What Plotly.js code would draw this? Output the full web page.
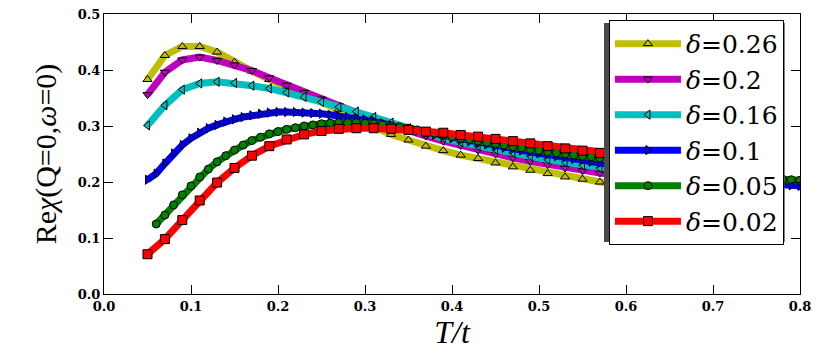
<!DOCTYPE html>
<html>
<head>
<meta charset="utf-8">
<script src="https://cdn.plot.ly/plotly-3.0.1.min.js"></script>
<style>html,body{margin:0;padding:0;background:#fff;}#chart{width:830px;height:355px;}</style>
</head>
<body>
<div id="chart"></div>
<script>
// Temperature grids
const T_coarse = [0.05,0.07,0.09,0.11,0.13,0.15,0.17,0.19,0.21,0.23,0.25,0.27,0.29,0.31,0.33,0.35,0.37,0.39,0.41,0.43,0.45,0.47,0.49,0.51,0.53,0.55,0.57,0.59,0.61,0.63,0.65,0.67,0.69,0.71,0.73,0.75];
const T_blue = [0.05,0.06,0.07,0.08,0.09,0.10,0.11,0.12,0.13,0.14,0.15,0.16,0.17,0.18,0.19,0.20,0.21,0.22,0.23,0.24,0.25,0.26,0.27,0.28,0.29,0.30,0.31,0.32,0.33,0.34,0.35,0.36,0.37,0.38,0.39,0.40,0.41,0.42,0.43,0.44,0.45,0.46,0.47,0.48,0.49,0.50,0.51,0.52,0.53,0.54,0.55,0.56,0.57,0.58,0.59,0.60,0.61,0.62,0.63,0.64,0.65,0.66,0.67,0.68,0.69,0.70,0.71,0.72,0.73,0.74,0.75,0.76,0.77,0.78,0.79,0.80];
const T_green = [0.06,0.07,0.08,0.09,0.10,0.11,0.12,0.13,0.14,0.15,0.16,0.17,0.18,0.19,0.20,0.21,0.22,0.23,0.24,0.25,0.26,0.27,0.28,0.29,0.30,0.31,0.32,0.33,0.34,0.35,0.36,0.37,0.38,0.39,0.40,0.41,0.42,0.43,0.44,0.45,0.46,0.47,0.48,0.49,0.50,0.51,0.52,0.53,0.54,0.55,0.56,0.57,0.58,0.59,0.60,0.61,0.62,0.63,0.64,0.65,0.66,0.67,0.68,0.69,0.70,0.71,0.72,0.73,0.74,0.75,0.76,0.77,0.78,0.79,0.80];

// Re chi(Q=0, w=0) for each doping
const chi_026 = [0.383,0.426,0.442,0.442,0.432,0.414,0.398,0.383,0.370,0.357,0.344,0.330,0.315,0.299,0.285,0.275,0.264,0.256,0.248,0.242,0.234,0.227,0.221,0.215,0.209,0.205,0.200,0.196,0.192,0.188,0.185,0.182,0.179,0.176,0.173,0.171];
const chi_020 = [0.356,0.396,0.418,0.423,0.417,0.409,0.399,0.386,0.373,0.360,0.348,0.336,0.324,0.312,0.301,0.291,0.282,0.273,0.265,0.257,0.250,0.243,0.237,0.231,0.225,0.220,0.216,0.212,0.208,0.204,0.200,0.197,0.194,0.191,0.188,0.186];
const chi_016 = [0.301,0.337,0.365,0.376,0.379,0.377,0.372,0.367,0.360,0.352,0.343,0.334,0.326,0.316,0.306,0.296,0.287,0.278,0.271,0.264,0.258,0.252,0.246,0.240,0.235,0.230,0.225,0.220,0.216,0.212,0.208,0.204,0.200,0.197,0.194,0.191];
const chi_010 = [0.204,0.215,0.233,0.251,0.266,0.278,0.288,0.296,0.302,0.308,0.312,0.316,0.319,0.322,0.324,0.325,0.325,0.325,0.324,0.323,0.322,0.320,0.318,0.316,0.314,0.312,0.309,0.305,0.301,0.298,0.294,0.291,0.287,0.284,0.281,0.278,0.275,0.272,0.269,0.267,0.264,0.261,0.259,0.256,0.254,0.251,0.249,0.246,0.244,0.241,0.239,0.236,0.234,0.232,0.230,0.228,0.226,0.224,0.222,0.220,0.218,0.216,0.214,0.212,0.210,0.208,0.206,0.204,0.202,0.200,0.199,0.198,0.196,0.195,0.194,0.193];
const chi_005 = [0.125,0.141,0.159,0.177,0.193,0.209,0.223,0.236,0.247,0.257,0.266,0.274,0.280,0.286,0.290,0.294,0.297,0.300,0.302,0.304,0.305,0.306,0.306,0.306,0.305,0.304,0.302,0.300,0.298,0.296,0.293,0.290,0.287,0.284,0.281,0.278,0.276,0.273,0.271,0.268,0.266,0.263,0.261,0.258,0.256,0.254,0.252,0.250,0.248,0.246,0.245,0.243,0.241,0.239,0.237,0.235,0.233,0.231,0.229,0.227,0.225,0.223,0.221,0.219,0.217,0.215,0.213,0.211,0.209,0.208,0.207,0.206,0.205,0.204,0.203];
const chi_002 = [0.071,0.098,0.132,0.167,0.199,0.225,0.247,0.264,0.276,0.285,0.291,0.295,0.296,0.296,0.295,0.293,0.290,0.288,0.284,0.281,0.277,0.273,0.269,0.264,0.260,0.256,0.252,0.248,0.245,0.242,0.239,0.236,0.233,0.230,0.228,0.226];

const legendNames = ['<i>δ</i>=0.26','<i>δ</i>=0.2','<i>δ</i>=0.16','<i>δ</i>=0.1','<i>δ</i>=0.05','<i>δ</i>=0.02'];
const colors = ['#bfbf00','#bf00bf','#00bfbf','#0000ff','#008000','#ff0000'];
const symbols = ['triangle-up','triangle-down','triangle-left','triangle-right','circle','square'];
const xTicks = [0.0,0.1,0.2,0.3,0.4,0.5,0.6,0.7,0.8];
const yTicks = [0.0,0.1,0.2,0.3,0.4,0.5];

const xs = [T_coarse,T_coarse,T_coarse,T_blue,T_green,T_coarse];
const ys = [chi_026,chi_020,chi_016,chi_010,chi_005,chi_002];

const traces = ys.map((y,i)=>({
  x: xs[i], y: y, type:'scatter', mode:'lines+markers', name: legendNames[i],
  line:{color:colors[i], width:7},
  marker:{symbol:symbols[i], color:colors[i], size:(symbols[i]==='square'?9:8), line:{color:'#000', width:1}}
}));

const tickFont = {family:'DejaVu Serif', size:13, weight:'bold', color:'#000'};
const layout = {
  width:830, height:355,
  margin:{l:104, r:30, t:14, b:61},
  paper_bgcolor:'#fff', plot_bgcolor:'#fff',
  showlegend:true,
  legend:{x:0.7255, y:0.979, xanchor:'left', yanchor:'top', bgcolor:'#fff', bordercolor:'#000', borderwidth:1,
          font:{family:'DejaVu Serif', size:25, color:'#000'}, itemwidth:66, tracegroupgap:0},
  shapes:[{type:'rect', xref:'paper', yref:'paper', x0:0.7184, x1:0.978, y0:0.186, y1:0.968,
           fillcolor:'#4a4a4a', line:{width:0}, layer:'above'}],
  xaxis:{range:[0,0.8], tickvals:xTicks, ticktext:xTicks.map(v=>v.toFixed(1)), ticks:'inside', ticklen:9, tickcolor:'#000',
         showline:true, linecolor:'#000', linewidth:1, mirror:'ticks', showgrid:false, zeroline:false, tickfont:tickFont,
         title:{text:'<i>T/t</i>', font:{family:'Liberation Serif', size:32, color:'#000'}, standoff:6}},
  yaxis:{range:[0,0.5], tickvals:yTicks, ticktext:yTicks.map(v=>v.toFixed(1)), ticks:'inside', ticklen:9, tickcolor:'#000',
         showline:true, linecolor:'#000', linewidth:1, mirror:'ticks', showgrid:false, zeroline:false, tickfont:tickFont,
         title:{text:'Re<i>χ</i>(Q=0,<i>ω</i>=0)', font:{family:'Liberation Serif', size:30, color:'#000'}, standoff:12}}
};
Plotly.newPlot('chart', traces, layout, {staticPlot:true, displayModeBar:false});
</script>
</body>
</html>
